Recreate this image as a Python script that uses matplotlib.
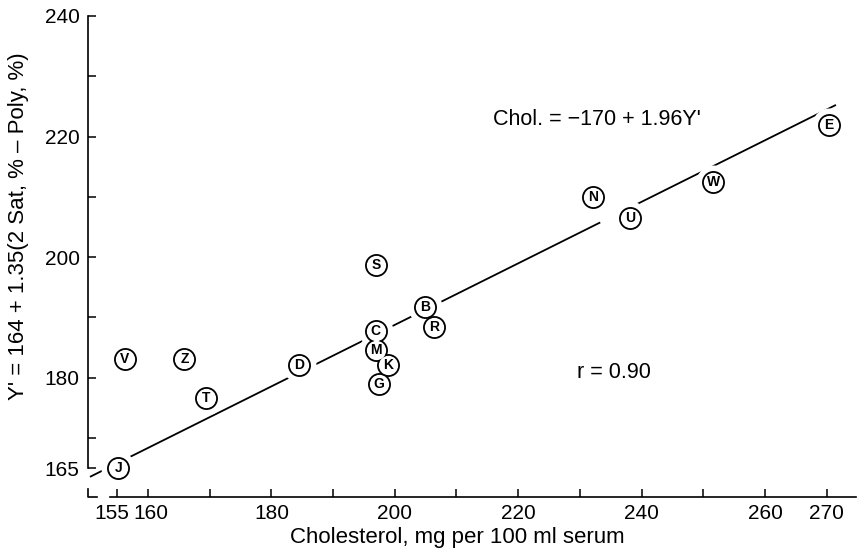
import matplotlib
matplotlib.use("Agg")
import matplotlib.pyplot as plt
import matplotlib.transforms as mtransforms
import numpy as np

# ---- data ----
labels = ['J', 'V', 'Z', 'T', 'D', 'S', 'C', 'M', 'K', 'G', 'B', 'R', 'N', 'U', 'W', 'E']
chol = [155.2, 156.2, 165.9, 169.4, 184.5, 197.0, 196.9, 196.9, 198.9, 197.4,
        204.9, 206.4, 232.2, 238.1, 251.6, 270.3]
yprime = [165.0, 183.1, 183.1, 176.6, 182.1, 198.7, 187.8, 184.6, 182.2, 178.9,
          191.7, 188.5, 210.0, 206.5, 212.5, 221.9]

fit_intercept = -170.0   # Chol. = -170 + 1.96 Y'
fit_slope = 1.96
fit_x_range = [150.6, 271.5]
line_gaps = [(233.3, 239.3)]   # break drawn in the printed line near N/U

x_major = [155, 160, 180, 200, 220, 240, 260, 270]
x_minor = [170, 190, 210, 230, 250]
y_major = [165, 180, 200, 220, 240]
y_minor = [170, 190, 210, 230]

plt.rcParams['font.family'] = ['Liberation Sans', 'DejaVu Sans']
FS_TICK = 15
FS_ANN = 15.5
FS_LAB = 16

W, H = 863, 557
fig = plt.figure(figsize=(W / 100, H / 100), dpi=100)
ax = fig.add_axes([88 / W, (H - 497) / H, (856 - 88) / W, (497 - 16) / H])
ax.set_xlim(150.28, 274.75)
ax.set_ylim(160.23, 240)

# regression line, drawn in pieces around the printed gaps
edges = [fit_x_range[0]]
for a, b in line_gaps:
    edges += [a, b]
edges.append(fit_x_range[1])
for i in range(0, len(edges), 2):
    fx = np.array([edges[i], edges[i + 1]])
    fy = (fx - fit_intercept) / fit_slope
    ax.plot(fx, fy, color='black', lw=1.3, zorder=2, solid_capstyle='butt')

# markers: halo (cuts the line), black disc, white disc -> union outlines
ms = 16.5
ax.plot(chol, yprime, 'o', ms=ms + 8, color='white', mec='none', zorder=3)
ax.plot(chol, yprime, 'o', ms=ms, color='black', mec='none', zorder=4)
ax.plot(chol, yprime, 'o', ms=ms - 2.6, color='white', mec='none', zorder=5)
for lab, xv, yv in zip(labels, chol, yprime):
    ax.text(xv, yv, lab, ha='center', va='center', fontsize=10, fontweight='bold',
            zorder=6)

# annotations
ax.text(215.9, 222.8, "Chol. = \u2212170 + 1.96Y'", fontsize=FS_ANN, ha='left', va='center')
ax.text(229.5, 180.8, "r = 0.90", fontsize=FS_ANN, ha='left', va='center')

# axes styling
for s in ['top', 'right']:
    ax.spines[s].set_visible(False)
ax.spines['left'].set_bounds(165, 240)
ax.spines['bottom'].set_bounds(153.8, 274.75)
for s in ['left', 'bottom']:
    ax.spines[s].set_linewidth(1.2)

ax.set_xticks(x_major)
ax.set_xticks(x_minor, minor=True)
ax.set_yticks(y_major)
ax.set_yticks(y_minor, minor=True)
ax.set_xticklabels([str(v) for v in x_major])
ax.set_yticklabels([str(v) for v in y_major])
ax.tick_params(which='both', direction='in', length=6, width=1.1, labelsize=FS_TICK)
ax.tick_params(axis='x', which='both', pad=5)
ax.tick_params(axis='y', which='both', pad=6)

# nudge the crowded 155 / 160 labels apart, as printed
xt = ax.get_xticklabels()
px = 72 / fig.dpi
xt[0].set_transform(xt[0].get_transform() +
                    mtransforms.ScaledTranslation(-5 * px / 72, 0, fig.dpi_scale_trans))
xt[1].set_transform(xt[1].get_transform() +
                    mtransforms.ScaledTranslation(3 * px / 72, 0, fig.dpi_scale_trans))

# broken-axis corner piece
ax.plot([150.28, 150.28, 151.73], [161.56, 160.23, 160.23], color='black', lw=1.2,
        clip_on=False, zorder=2)

fig.text(19 / W, 1 - 226 / H, "Y' = 164 + 1.35(2 Sat, % \u2013 Poly, %)", rotation=90,
         ha='center', va='center', fontsize=FS_LAB)
fig.text(457 / W, 1 - 537 / H, "Cholesterol, mg per 100 ml serum", ha='center',
         va='center', fontsize=FS_LAB)

fig.savefig('out.png', dpi=100, facecolor='white')
